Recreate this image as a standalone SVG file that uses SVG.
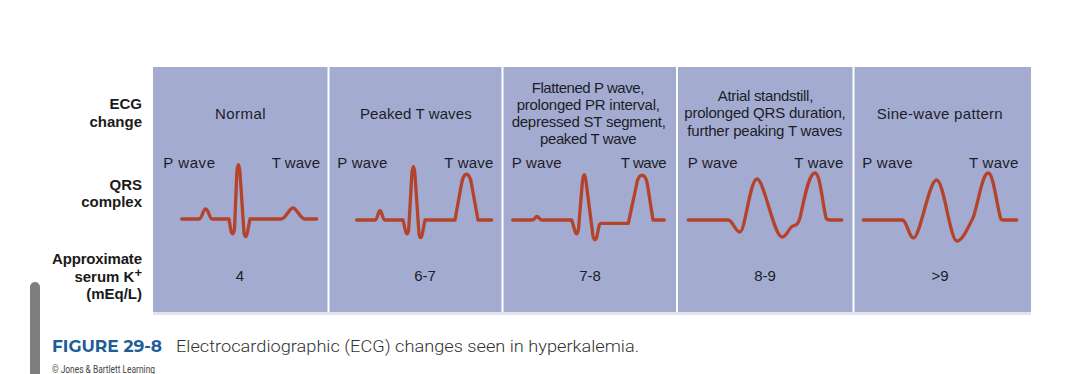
<svg xmlns="http://www.w3.org/2000/svg" width="1080" height="374" viewBox="0 0 1080 374">
<style>
.panel{fill:#a3acd0}
.div{stroke:#ffffff;stroke-width:2}
.t{font-family:"Liberation Sans",Arial,Helvetica,sans-serif;font-size:15px;fill:#1c1c28}
.c{text-anchor:middle}
.e{text-anchor:end}
.lab{font-family:"Liberation Sans",Arial,Helvetica,sans-serif;font-size:15px;font-weight:bold;fill:#1a1a1a;text-anchor:end}
.ecg{fill:none;stroke:#b4432b;stroke-width:3.3;stroke-linejoin:round;stroke-linecap:round}
</style>
<rect width="1080" height="374" fill="#ffffff"/>
<path d="M30,374 V287 a5,5 0 0 1 10,0 V374 Z" fill="#7f7f7f"/>
<g id="labels">
<text class="lab" x="142" y="109">ECG</text>
<text class="lab" x="142" y="127">change</text>
<text class="lab" x="142" y="190">QRS</text>
<text class="lab" x="142" y="207">complex</text>
<text class="lab" x="142" y="264" textLength="90">Approximate</text>
<text class="lab" x="142" y="282">serum K<tspan font-size="13" dy="-5">+</tspan></text>
<text class="lab" x="142" y="299">(mEq/L)</text>
</g>
<rect x="153" y="311" width="878" height="4" fill="#e2e5ee"/>
<rect class="panel" x="153" y="67" width="878" height="245"/>
<g id="dividers">
<line class="div" x1="328.5" y1="67" x2="328.5" y2="312"/>
<line class="div" x1="502.5" y1="67" x2="502.5" y2="312"/>
<line class="div" x1="677" y1="67" x2="677" y2="312"/>
<line class="div" x1="853.5" y1="67" x2="853.5" y2="312"/>
</g>
<g id="panel-normal">
<text class="t c" x="240.3" y="119" textLength="50.7">Normal</text>
<text class="t" x="163.3" y="168.3" textLength="51.7">P wave</text>
<text class="t e" x="320" y="168.3" textLength="48.3">T wave</text>
<path class="ecg" d="M181.7,219 H199 C202,219 203,209 205.7,209 C208.4,209 209.5,219 212,219 H229 L231,231 C232,235 233.5,235 234.5,229 L236.8,173 C237.6,162 239.2,162 240,173 L244,233 C245,238 246.5,238 247.5,232 L250,219 H281 C286,219 289,208 293,208 C297,208 300,219 305,219 H316.7"/>
<text class="t c" x="240" y="281">4</text>
</g>
<g id="panel-peaked">
<text class="t c" x="415.8" y="118.5" textLength="111.7">Peaked T waves</text>
<text class="t" x="337.3" y="168.3" textLength="50">P wave</text>
<text class="t e" x="493.3" y="168.3" textLength="49">T wave</text>
<path class="ecg" d="M356.7,220 H375 C377.5,220 378,210.7 380,210.7 C382,210.7 382.5,220 385,220 H403 L405.5,231 C406.5,235 408,235 408.7,229 L411.8,175 C412.6,164 414.2,164 415,175 L419,234 C420,239 421.5,239 422.5,233 L425,220 H455 L461.5,184 C463.5,171 469.5,171 471.5,184 L478,220 H491.7"/>
<text class="t c" x="425" y="281">6-7</text>
</g>
<g id="panel-flattened">
<text class="t c" x="588" y="92.5" textLength="112.6">Flattened P wave,</text>
<text class="t c" x="588.3" y="109.5" textLength="143.3">prolonged PR interval,</text>
<text class="t c" x="588.8" y="126.5" textLength="154.3">depressed ST segment,</text>
<text class="t c" x="588.3" y="143.5" textLength="96.7">peaked T wave</text>
<text class="t" x="511.7" y="168.3" textLength="50">P wave</text>
<text class="t e" x="666.7" y="168.3" textLength="46">T wave</text>
<path class="ecg" d="M512.7,220 H532 C535,220 535,216.5 537,216.5 C539,216.5 539,220 542,220 H571.7 L575,231 C576,235 577.5,235 578.5,229 L582.3,183 C583.3,172 585.2,172 586.2,183 L593,236 C594,241 596,241 597,236 L599,226 C599.5,223.5 600,223.3 602,223.3 H628.3 L636.5,185 C638.5,172 645.5,172 647.5,185 L653,220 H664.3"/>
<text class="t c" x="590" y="281">7-8</text>
</g>
<g id="panel-atrial">
<text class="t c" x="765.5" y="100.5" textLength="95.6">Atrial standstill,</text>
<text class="t c" x="765" y="118" textLength="161.4">prolonged QRS duration,</text>
<text class="t c" x="764.8" y="135.5" textLength="155">further peaking T waves</text>
<text class="t" x="687.7" y="168.3" textLength="50">P wave</text>
<text class="t e" x="843.3" y="168.3" textLength="49">T wave</text>
<path class="ecg" d="M688.3,220 H728 C733,220 735,232 740,232 C745,232 750,179 757,179 C764,179 774,237 782,237 C787,237 789,227 793,226 C797,225 798,224 800,218 C805,195 809,173 815,173 C820,173 822,200 826,218 C827,220 828,220 830,220 H841.7"/>
<text class="t c" x="765" y="281">8-9</text>
</g>
<g id="panel-sine">
<text class="t c" x="939.7" y="118.5" textLength="126">Sine-wave pattern</text>
<text class="t" x="862.3" y="168.3" textLength="50.4">P wave</text>
<text class="t e" x="1018.3" y="168.3" textLength="49.3">T wave</text>
<path class="ecg" d="M863.3,220 H902 C907,220 909,238 913.5,238 C920,238 929,180 936.5,180 C944,180 950,241 957,241 C963,241 969,225 973,218 C978,205 982,173 988.3,173 C993,173 996,200 1000,216 C1001,220 1001,220 1003,220 H1016.7"/>
<text class="t c" x="940" y="281">&gt;9</text>
</g>
<g id="caption">
<text x="52" y="352" font-family="Montserrat,'Liberation Sans',Arial,sans-serif" font-size="17" font-weight="bold" fill="#1d5c97" textLength="110" lengthAdjust="spacingAndGlyphs">FIGURE 29-8</text>
<text x="176" y="352" font-family="Roboto,'Liberation Sans',Arial,sans-serif" font-size="17" font-weight="300" fill="#333333" textLength="463" lengthAdjust="spacingAndGlyphs">Electrocardiographic (ECG) changes seen in hyperkalemia.</text>
<text x="52" y="373" font-family="Roboto,'Liberation Sans',Arial,sans-serif" font-size="10.5" fill="#444444" textLength="103" lengthAdjust="spacingAndGlyphs">© Jones &amp; Bartlett Learning</text>
</g>
</svg>
